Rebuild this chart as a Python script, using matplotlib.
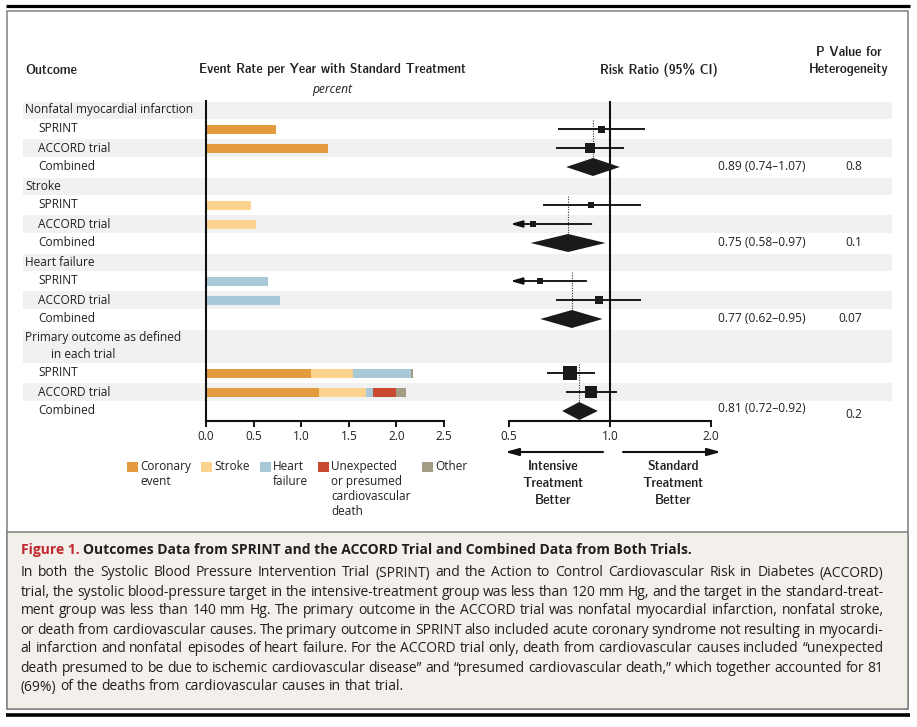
import matplotlib
matplotlib.use("Agg")
import matplotlib.pyplot as plt
from matplotlib import font_manager as fm
from matplotlib.patches import Rectangle, Polygon
from matplotlib.ticker import NullLocator

W, H = 917, 727

# ---------------- data ----------------
outcome_labels = ["Nonfatal myocardial infarction", "Stroke", "Heart failure",
                  "Primary outcome as defined\nin each trial"]
trials = ["SPRINT", "ACCORD trial"]
combined_label = "Combined"

components = ["Coronary\nevent", "Stroke", "Heart\nfailure",
              "Unexpected\nor presumed\ncardiovascular\ndeath", "Other"]
component_colors = ["#E39B3D", "#FCD38E", "#A9C8D7", "#C94A31", "#A39D86"]

# event rate per year with standard treatment (%)
# rows: MI-SPRINT, MI-ACCORD, Stroke-SPRINT, Stroke-ACCORD, HF-SPRINT, HF-ACCORD, Primary-SPRINT, Primary-ACCORD
rate_coronary = [0.74, 1.28, 0.00, 0.00, 0.00, 0.00, 1.10, 1.19]
rate_stroke   = [0.00, 0.00, 0.47, 0.53, 0.00, 0.00, 0.44, 0.49]
rate_hf       = [0.00, 0.00, 0.00, 0.00, 0.65, 0.78, 0.61, 0.07]
rate_unexp    = [0.00, 0.00, 0.00, 0.00, 0.00, 0.00, 0.00, 0.25]
rate_other    = [0.00, 0.00, 0.00, 0.00, 0.00, 0.00, 0.02, 0.10]
rate_ticks = [0.0, 0.5, 1.0, 1.5, 2.0, 2.5]

# risk ratios per trial
rr_est = [0.94, 0.87, 0.88, 0.59, 0.62, 0.93, 0.76, 0.88]
rr_lo  = [0.70, 0.69, 0.63, 0.39, 0.45, 0.69, 0.65, 0.74]
rr_hi  = [1.27, 1.10, 1.24, 0.88, 0.85, 1.24, 0.90, 1.05]
weight_px = [7, 10, 6, 6, 6.5, 8, 14, 12]   # square size (study weight)

# combined estimates
comb_est = [0.89, 0.75, 0.77, 0.81]
comb_lo  = [0.74, 0.58, 0.62, 0.72]
comb_hi  = [1.07, 0.97, 0.95, 0.92]
p_het = ["0.8", "0.1", "0.07", "0.2"]
rr_ticks = [0.5, 1.0, 2.0]
rr_ticklabels = ["0.5", "1.0", "2.0"]

caption_title_red = "Figure 1."
caption_title = "Outcomes Data from SPRINT and the ACCORD Trial and Combined Data from Both Trials."
caption_lines = [
    "In both the Systolic Blood Pressure Intervention Trial (SPRINT) and the Action to Control Cardiovascular Risk in Diabetes (ACCORD)",
    "trial, the systolic blood-pressure target in the intensive-treatment group was less than 120 mm Hg, and the target in the standard-treat-",
    "ment group was less than 140 mm Hg. The primary outcome in the ACCORD trial was nonfatal myocardial infarction, nonfatal stroke,",
    "or death from cardiovascular causes. The primary outcome in SPRINT also included acute coronary syndrome not resulting in myocardi-",
    "al infarction and nonfatal episodes of heart failure. For the ACCORD trial only, death from cardiovascular causes included \u201cunexpected",
    "death presumed to be due to ischemic cardiovascular disease\u201d and \u201cpresumed cardiovascular death,\u201d which together accounted for 81",
    "(69%) of the deaths from cardiovascular causes in that trial.",
]

# ---------------- fonts ----------------
def pick(cands):
    for c in cands:
        try:
            fm.findfont(fm.FontProperties(family=c), fallback_to_default=False)
            return c
        except Exception:
            pass
    return "DejaVu Sans"


BODY = pick(["Open Sans", "Noto Sans", "Lato"])


def find_condensed_bold():
    best = None
    for f in fm.fontManager.ttflist:
        nm = f.name.lower()
        cond = ("narrow" in nm or "condensed" in nm or
                str(f.stretch) in ("condensed", "semi-condensed", "extra-condensed"))
        if not cond:
            continue
        w = f.weight if isinstance(f.weight, int) else (700 if "bold" in str(f.weight) else 400)
        if w >= 600 and f.style == "normal":
            if best is None or "sans" in nm:
                best = f.fname
    return best


_cb = find_condensed_bold()
if _cb:
    HEADP = fm.FontProperties(fname=_cb)
else:
    HEADP = fm.FontProperties(family=pick(["Roboto", "Lato"]), weight="bold")
BODYP = fm.FontProperties(family=BODY)
BODYB = fm.FontProperties(family=BODY, weight="bold")
BODYI = fm.FontProperties(family=BODY, style="italic")
TXT = "#231F20"

fig = plt.figure(figsize=(W / 100, H / 100), dpi=100)
fig.patch.set_facecolor("white")
renderer = fig.canvas.get_renderer()


def P(base, size):
    p = base.copy()
    p.set_size(size)
    return p


def text_w(s, base, size):
    t = fig.text(0, 0, s, fontproperties=P(base, size))
    w = t.get_window_extent(renderer=renderer).width
    t.remove()
    return w


def fit(s, target, base):
    return 10.0 * target / text_w(s, base, 10.0)


bg = fig.add_axes([0, 0, 1, 1], zorder=0)
bg.set_xlim(0, W)
bg.set_ylim(H, 0)
bg.axis("off")


def put(x, y, s, base, size, ha="left", va="center", color=TXT):
    bg.text(x, y, s, fontproperties=P(base, size), ha=ha, va=va, color=color)


# ---------------- layout of rows ----------------
ROW = 19.0
y = 100.5
header_c, header_h, trial_c, comb_c, group_top = [], [], [], [], []
for lab in outcome_labels:
    nl = lab.count("\n") + 1
    hh = ROW if nl == 1 else 35.0
    header_c.append(y + hh / 2)
    header_h.append(hh)
    y += hh
    group_top.append(y)
    for t in trials:
        trial_c.append(y + ROW / 2)
        y += ROW
    comb_c.append(y + ROW / 2)
    y += ROW
AX_TOP, AX_BOT = 100.5, y + 0.5

# frame
bg.plot([6, 910], [5.5, 5.5], color="black", lw=2.3, solid_capstyle="butt")
bg.add_patch(Rectangle((7, 10.5), 901, 698.5, fill=False, ec="#7F7F7F", lw=1.1))
bg.add_patch(Rectangle((7, 532), 901, 177, fc="#F3EFEB", ec="#7F7F7F", lw=1.1))
bg.plot([6, 910], [714.5, 714.5], color="black", lw=2.6, solid_capstyle="butt")

# shaded rows
SH_X0, SH_X1 = 22.5, 892
for c, hh in zip(header_c, header_h):
    bg.add_patch(Rectangle((SH_X0, c - (hh - 2) / 2), SH_X1 - SH_X0, hh - 2, fc="#F1F1F1", ec="none"))
for i in range(1, len(trial_c), 2):
    bg.add_patch(Rectangle((SH_X0, trial_c[i] - 9), SH_X1 - SH_X0, 18, fc="#F1F1F1", ec="none"))

# row labels
fs_row = fit("Nonfatal myocardial infarction", 168, BODYP)
for lab, c in zip(outcome_labels, header_c):
    lines = lab.split("\n")
    if len(lines) == 1:
        put(25, c, lab, BODYP, fs_row)
    else:
        put(25, c - 8, lines[0], BODYP, fs_row)
        put(51, c + 8, lines[1], BODYP, fs_row)
for i, c in enumerate(trial_c):
    put(38, c, trials[i % 2], BODYP, fs_row)
for c in comb_c:
    put(38, c, combined_label, BODYP, fs_row)

# headers
fs_head = fit("Event Rate per Year with Standard Treatment", 268, HEADP)
put(25, 70, "Outcome", HEADP, fs_head)
put(332.5, 70, "Event Rate per Year with Standard Treatment", HEADP, fs_head, ha="center")
put(658.5, 70, "Risk Ratio (95% CI)", HEADP, fs_head, ha="center")
put(849, 53, "P Value for", HEADP, fs_head, ha="center")
put(849, 70, "Heterogeneity", HEADP, fs_head, ha="center")
put(332, 89, "percent", BODYI, fit("percent", 40, BODYI), ha="center")

# ---------------- bar panel ----------------
def fig_rect(x0, x1, y0, y1):
    return [x0 / W, (H - y1) / H, (x1 - x0) / W, (y1 - y0) / H]

fs_tick = fit("0.0", 16.7, BODYP)

axb = fig.add_axes(fig_rect(206, 444, AX_TOP, AX_BOT), zorder=2)
axb.patch.set_alpha(0)
axb.set_xlim(0, 2.5)
axb.set_ylim(AX_BOT, AX_TOP)
left = [0.0] * len(trial_c)
for vals, col in zip([rate_coronary, rate_stroke, rate_hf, rate_unexp, rate_other], component_colors):
    axb.barh(trial_c, vals, left=left, height=9, color=col, linewidth=0)
    left = [a + b for a, b in zip(left, vals)]
for s in ["top", "right"]:
    axb.spines[s].set_visible(False)
for s in ["left", "bottom"]:
    axb.spines[s].set_linewidth(1.5)
    axb.spines[s].set_color("#111111")
axb.set_yticks([])
axb.set_xticks(rate_ticks)
axb.set_xticklabels([f"{v:.1f}" for v in rate_ticks], fontproperties=P(BODYP, fs_tick), color=TXT)
axb.tick_params(axis="x", direction="out", length=4.3, width=1.4, pad=2.5, color="#111111")

# ---------------- forest panel ----------------
axf = fig.add_axes(fig_rect(509, 711, AX_TOP, AX_BOT), zorder=2)
axf.patch.set_alpha(0)
axf.set_xscale("log")
axf.set_xlim(0.5, 2.0)
axf.set_ylim(AX_BOT, AX_TOP)
for s in ["top", "right", "left"]:
    axf.spines[s].set_visible(False)
axf.spines["bottom"].set_linewidth(1.5)
axf.spines["bottom"].set_color("#111111")
axf.set_yticks([])
axf.xaxis.set_minor_locator(NullLocator())
axf.set_xticks(rr_ticks)
axf.set_xticklabels(rr_ticklabels, fontproperties=P(BODYP, fs_tick), color=TXT)
axf.tick_params(axis="x", direction="out", length=4.3, width=1.4, pad=2.5, color="#111111")
axf.axvline(1.0, color="#111111", lw=1.5, zorder=1)

for yc, e, lo, hi, px in zip(trial_c, rr_est, rr_lo, rr_hi, weight_px):
    if lo < 0.5:
        axf.annotate("", xy=(0.505, yc), xytext=(hi, yc), annotation_clip=False,
                     arrowprops=dict(arrowstyle="-|>,head_length=0.7,head_width=0.2",
                                     color="#111111", lw=1.35, mutation_scale=10,
                                     shrinkA=0, shrinkB=0))
    else:
        axf.plot([lo, hi], [yc, yc], color="#111111", lw=1.35, solid_capstyle="butt", zorder=3)
    axf.scatter([e], [yc], marker="s", s=(px * 0.72) ** 2, color="#1A1A1A", zorder=4,
                linewidths=0, clip_on=False)

for yc, gt, e, lo, hi in zip(comb_c, group_top, comb_est, comb_lo, comb_hi):
    axf.plot([e, e], [gt, yc], ls=(0, (1, 1.3)), color="#333333", lw=0.8, zorder=2)
    axf.add_patch(Polygon([[lo, yc], [e, yc - 9], [hi, yc], [e, yc + 9]], closed=True,
                          fc="#1A1A1A", ec="none", zorder=3))

# values columns
fs_val = fit("0.89 (0.74\u20131.07)", 88, BODYP)
for k, (yc, e, lo, hi, p) in enumerate(zip(comb_c, comb_est, comb_lo, comb_hi, p_het)):
    dy_t, dy_p = (-2, 3) if k == len(comb_c) - 1 else (0, 0)
    put(718, yc + dy_t, f"{e:.2f} ({lo:.2f}\u2013{hi:.2f})", BODYP, fs_val)
    put(862, yc + dy_p, p, BODYP, fs_val, ha="right")

# direction arrows
for x_from, x_to in [(603, 505), (623, 721)]:
    bg.annotate("", xy=(x_to, 452), xytext=(x_from, 452),
                arrowprops=dict(arrowstyle="-|>,head_length=0.8,head_width=0.22", color="#111111",
                                lw=1.5, mutation_scale=10, shrinkA=0, shrinkB=0))
fs_arr = fit("Treatment", 61.4, HEADP)
for txt, x in [("Intensive\nTreatment\nBetter", 553), ("Standard\nTreatment\nBetter", 673)]:
    for j, ln in enumerate(txt.split("\n")):
        put(x, 466 + 17.5 * j, ln, HEADP, fs_arr, ha="center")

# legend
fs_leg = fit("cardiovascular", 79, BODYP)
leg_sq_x = [127, 201, 260, 318, 422]
for name, col, sx in zip(components, component_colors, leg_sq_x):
    bg.add_patch(Rectangle((sx, 461.5), 10.5, 10.5, fc=col, ec="none"))
    for j, ln in enumerate(name.split("\n")):
        put(sx + 13, 466.5 + 15 * j, ln, BODYP, fs_leg)

# ---------------- caption ----------------
X0, X1 = 20.7, 883.5
fs_title = fit(caption_title_red + " " + caption_title, 670, BODYB)
bg.text(X0, 554, caption_title_red, fontproperties=P(BODYB, fs_title), color="#C1272D",
        ha="left", va="baseline")
wr = text_w(caption_title_red + " " + caption_title, BODYB, fs_title) - text_w(caption_title, BODYB, fs_title)
bg.text(X0 + wr, 554, caption_title, fontproperties=P(BODYB, fs_title), color=TXT,
        ha="left", va="baseline")

nat = [text_w(l, BODYP, 10.0) for l in caption_lines[:-1]]
fs_cap = 10.0 * (X1 - X0) / (sum(nat) / len(nat))
for i, line in enumerate(caption_lines):
    yb = 576.5 + 19 * i
    words = line.split(" ")
    xs = [0.0]
    for k in range(1, len(words)):
        xs.append(text_w(" ".join(words[:k + 1]), BODYP, fs_cap) - text_w(words[k], BODYP, fs_cap))
    total = text_w(line, BODYP, fs_cap)
    last = i == len(caption_lines) - 1
    extra = 0.0 if last else (X1 - X0 - total) / (len(words) - 1)
    for k, w in enumerate(words):
        bg.text(X0 + xs[k] + extra * k, yb, w, fontproperties=P(BODYP, fs_cap), color=TXT,
                ha="left", va="baseline")

fig.savefig("out.png", dpi=100, facecolor="white")
